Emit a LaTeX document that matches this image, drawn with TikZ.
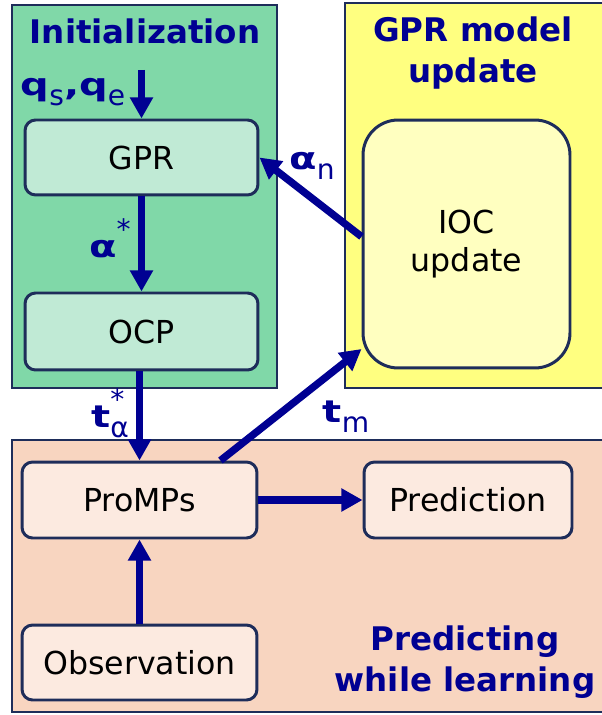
\documentclass[tikz,border=0pt]{standalone}
\usepackage{fontspec}
\setmainfont{DejaVu Sans}
\newfontfamily\lblfont{DejaVu Sans Bold}[FakeStretch=1.3]
\usetikzlibrary{arrows.meta,positioning}

\definecolor{initgreen}{HTML}{80D8A8}
\definecolor{initbox}{HTML}{C0EAD5}
\definecolor{updyellow}{HTML}{FFFF80}
\definecolor{updbox}{HTML}{FFFFC0}
\definecolor{predpeach}{HTML}{F8D5C0}
\definecolor{predbox}{HTML}{FCEAE0}
\definecolor{flowblue}{HTML}{000092}
\definecolor{boxline}{HTML}{1E2D5A}

% lowered / raised scripts for the labels
\newcommand{\lsub}[1]{\raisebox{-0.32em}{\rmfamily\fontsize{16}{16}\selectfont #1}}
\newcommand{\lsup}[1]{\raisebox{0.6em}{\rmfamily\fontsize{16}{16}\selectfont #1}}

\tikzset{
    panel/.style={draw=boxline, line width=0.9pt},
    box/.style={draw=boxline, line width=1.7pt, rounded corners=6pt, inner sep=0pt,
        align=center, font=\fontsize{18}{21.5}\selectfont},
    flow/.style={draw=flowblue, line width=4.2pt, -{Triangle[length=12pt,width=12.5pt]}},
    title/.style={text=flowblue, align=center, font=\fontsize{18.5}{23.5}\selectfont\bfseries},
    lbl/.style={text=flowblue, font=\lblfont\fontsize{17.5}{22}\selectfont},
}

\begin{document}
\begin{tikzpicture}[x=0.02cm, y=-0.02cm]
    \useasboundingbox (0,0) rectangle (601,715);

    % panels
    \draw[panel, fill=initgreen] (12,5) rectangle (277,388);
    \draw[panel, fill=updyellow] (345,3) rectangle (610,388);
    \draw[panel, fill=predpeach] (12,440) rectangle (610,712);

    \node[title] (inittitle) at (145,31) {Initialization};
    \node[title] (updtitle) at (473,53) {GPR model\\update};
    \node[title] (predtitle) at (465,662) {Predicting\\while learning};

    % boxes
    \node[box, fill=initbox, minimum width=4.66cm, minimum height=1.5cm] (gpr) at (141.5,157.5) {GPR};
    \node[box, fill=initbox, minimum width=4.66cm, minimum height=1.54cm] (ocp) at (141.5,331.5) {OCP};
    \node[box, fill=updbox, rounded corners=20pt, minimum width=4.14cm, minimum height=4.96cm] (ioc) at (466.5,244) {IOC\\update};
    \node[box, fill=predbox, minimum width=4.7cm, minimum height=1.52cm] (promps) at (139.5,500) {ProMPs};
    \node[box, fill=predbox, minimum width=4.16cm, minimum height=1.52cm] (pred) at (468,500) {Prediction};
    \node[box, fill=predbox, minimum width=4.7cm, minimum height=1.5cm] (obs) at (139.5,662.5) {Observation};

    % connectors
    \coordinate (start) at (141.5,70);
    \draw[flow] (start) -- (gpr.north);
    \draw[flow] (gpr.south) -- (ocp.north);
    \draw[flow] (ocp.south -| promps.north) -- (promps.north);
    \draw[flow] (obs.north) -- (promps.south);
    \draw[flow] (promps.east) -- (pred.west);
    \draw[flow] (promps.26) -- (ioc.225);
    \draw[flow] (ioc.176) -- (gpr.east);

    % labels
    \node[lbl] (qlbl) at (73,92) {q\lsub{s},q\lsub{e}};
    \node[lbl] (albl) at (110,238) {α\lsup{*}};
    \node[lbl] (tlbl) at (110,413) {t\rlap{\lsup{*}}\lsub{α}};
    \node[lbl] (tmlbl) at (346,417) {t\lsub{m}};
    \node[lbl] (anlbl) at (312,166) {α\lsub{n}};
\end{tikzpicture}
\end{document}
